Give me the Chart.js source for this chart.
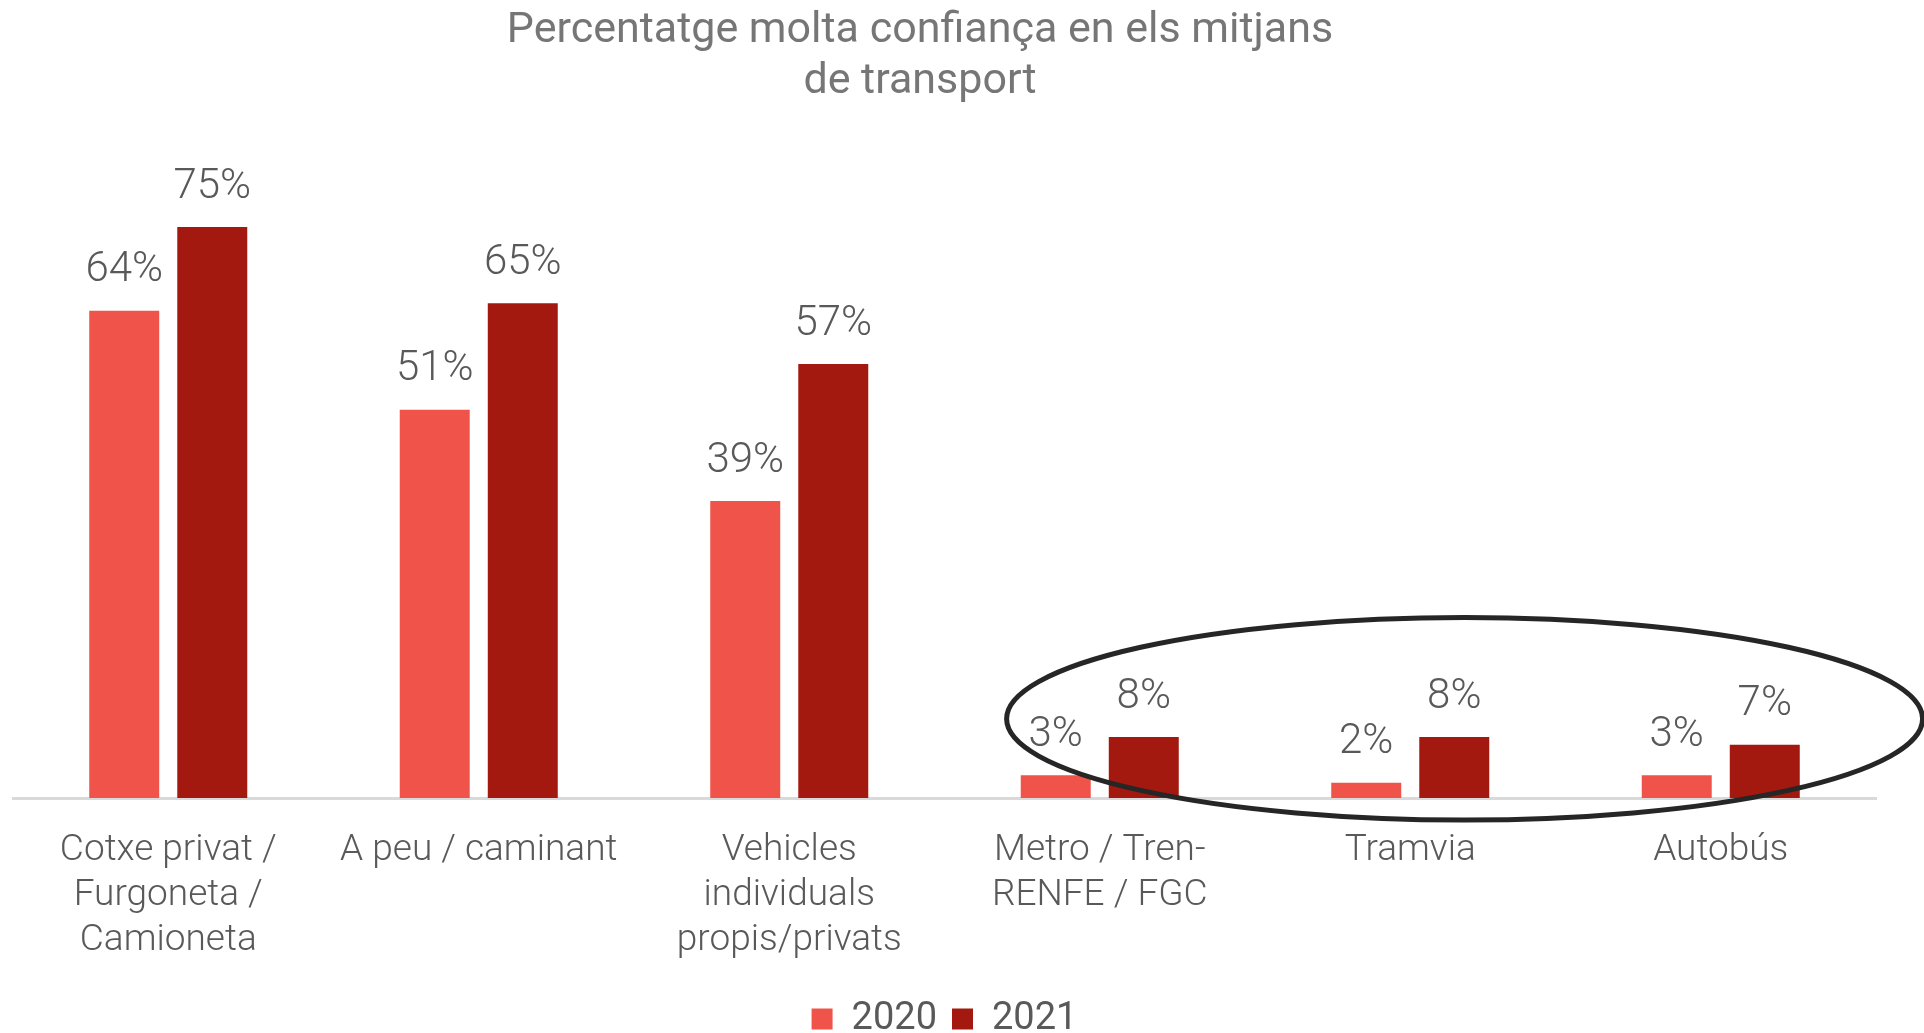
<!DOCTYPE html>
<html>
<head>
<meta charset="utf-8">
<script src="https://cdn.jsdelivr.net/npm/chart.js@4"></script>
<style>
  html, body { margin: 0; padding: 0; background: #fff; overflow: hidden; }
  #wrap { width: 1924px; height: 1033px; overflow: hidden; }
</style>
</head>
<body>
<div id="wrap"><canvas id="chart" width="1924" height="1048"></canvas></div>
<script>
// Dades del grafic
const titleLines = ["Percentatge molta confiança en els mitjans", "de transport"];
const categories = [
  ["Cotxe privat /", "Furgoneta /", "Camioneta"],
  ["A peu / caminant"],
  ["Vehicles", "individuals", "propis/privats"],
  ["Metro / Tren-", "RENFE / FGC"],
  ["Tramvia"],
  ["Autobús"]
];
const years = ["2020", "2021"];
const values2020 = [64, 51, 39, 3, 2, 3];
const values2021 = [75, 65, 57, 8, 8, 7];

const textGrey = "#595959";

// titol, etiquetes de valor i l'el·lipse que marca el transport public
const extras = {
  id: "extras",
  afterDatasetsDraw(chart) {
    const c = chart.ctx;
    c.save();
    c.fillStyle = textGrey;
    c.font = "300 42px Roboto";
    c.textAlign = "center";
    c.textBaseline = "middle";
    chart.data.datasets.forEach((ds, i) => {
      chart.getDatasetMeta(i).data.forEach((bar, j) => {
        c.fillText(ds.data[j] + "%", bar.x, bar.y - 40);
      });
    });

    // el·lipse al voltant de Metro, Tramvia i Autobus
    const x = chart.scales.x, y = chart.scales.y;
    const cat = x.getPixelForValue(1) - x.getPixelForValue(0);
    const cx = x.getPixelForValue(4) + 0.175 * cat;
    const cy = y.getPixelForValue(10.4);
    const rx = 1.475 * cat;
    const ry = y.getPixelForValue(0) - y.getPixelForValue(13.3);
    c.beginPath();
    c.ellipse(cx, cy, rx, ry, 0, 0, Math.PI * 2);
    c.lineWidth = 5;
    c.strokeStyle = "#262626";
    c.stroke();

    // titol
    c.fillStyle = "#767676";
    c.font = "43px Roboto";
    c.fillText(titleLines[0], 920, 31);
    c.fillText(titleLines[1], 920, 82);
    c.restore();
  }
};

new Chart(document.getElementById("chart").getContext("2d"), {
  type: "bar",
  data: {
    labels: categories,
    datasets: [
      { label: years[0], data: values2020, backgroundColor: "#ef5349" },
      { label: years[1], data: values2021, backgroundColor: "#a3180f" }
    ]
  },
  options: {
    responsive: false,
    animation: false,
    categoryPercentage: 0.567,
    barPercentage: 0.795,
    layout: { padding: { top: 189, left: 13, right: 48, bottom: 0 } },
    plugins: {
      title: { display: false },
      tooltip: { enabled: false },
      legend: {
        position: "bottom",
        labels: {
          boxWidth: 21,
          boxHeight: 21,
          padding: 15,
          color: textGrey,
          font: { family: "Roboto", size: 38 }
        }
      }
    },
    scales: {
      y: { display: false, min: 0, max: 80 },
      x: {
        grid: { display: false },
        border: { display: true, color: "#d9d9d9", width: 3 },
        ticks: {
          color: textGrey,
          maxRotation: 0,
          autoSkip: false,
          padding: 22,
          font: { family: "Roboto", weight: "300", size: 37, lineHeight: "45px" }
        }
      }
    }
  },
  plugins: [extras]
});
</script>
</body>
</html>
